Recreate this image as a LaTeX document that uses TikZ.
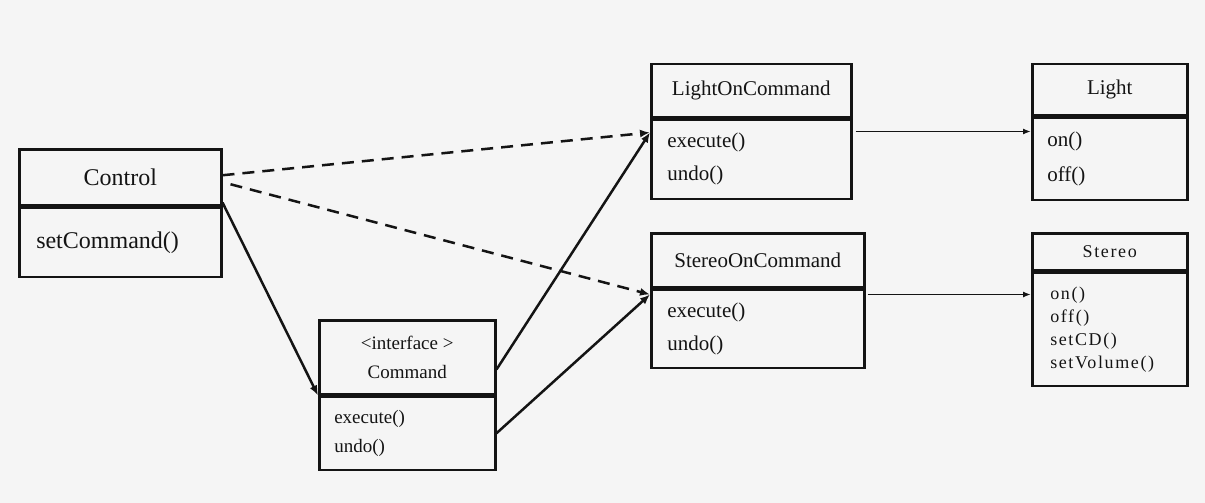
\documentclass[tikz,border=0pt]{standalone}
\usepackage{fontspec}
\setmainfont{Liberation Serif}
\usetikzlibrary{positioning, arrows.meta}
\definecolor{paper}{HTML}{F5F5F5}
\definecolor{ink}{HTML}{141414}
\tikzset{
    classname/.style={
           rectangle,
           draw=ink, line width=2.5pt,
           anchor=north west,
           inner sep=0pt,
           align=center,
           text=ink,
           },
    classops/.style={
           rectangle,
           draw=ink, line width=2.5pt,
           inner xsep=16pt, inner ysep=0pt,
           align=left,
           text=ink,
           },
    dep/.style={-{Latex[length=10pt, width=8pt]}, draw=ink, line width=2.5pt, dash pattern=on 12pt off 8pt},
    assoc/.style={-{Latex[length=10pt, width=8pt]}, draw=ink, line width=2.5pt},
    uses/.style={-{Latex[length=8pt, width=6pt]}, draw=ink, line width=1.6pt},
}

\begin{document}
\begin{tikzpicture}[x=1pt, y=-1pt]
    \fill[paper] (0,0) rectangle (1205,503);
    \useasboundingbox (0,0) rectangle (1205,503);

    % Class: Control
    \node[classname, minimum width=202pt, minimum height=56pt,
    font=\fontsize{24pt}{29pt}\selectfont] (control) at (18,148)
    {Control};
    \node[classops, below=0pt of control.south west, anchor=north west,
    minimum width=202pt, minimum height=69pt, text width=168pt,
    inner xsep=17pt, % a bit more room on the left
    font=\fontsize{24pt}{33pt}\selectfont] (controlops)
    {setCommand()};

    % Interface: Command
    \node[classname, minimum width=176pt, minimum height=74pt,
    font=\fontsize{19pt}{29pt}\selectfont] (command) at (318,319)
    {<interface >\\Command};
    \node[classops, below=0pt of command.south west, anchor=north west,
    minimum width=176pt, minimum height=73pt, text width=146pt,
    inner xsep=15pt,
    font=\fontsize{19pt}{29pt}\selectfont] (commandops)
    {execute()\\undo()};

    % Class: LightOnCommand
    \node[classname, minimum width=200pt, minimum height=53pt,
    font=\fontsize{21pt}{29pt}\selectfont] (lighton) at (650,63)
    {LightOnCommand};
    \node[classops, below=0pt of lighton.south west, anchor=north west,
    minimum width=200pt, minimum height=79pt, text width=168pt,
    font=\fontsize{21pt}{33pt}\selectfont] (lightonops)
    {execute()\\undo()};

    % Class: StereoOnCommand
    \node[classname, minimum width=213pt, minimum height=54pt,
    font=\fontsize{21pt}{29pt}\selectfont] (stereoon) at (650,232)
    {StereoOnCommand};
    \node[classops, below=0pt of stereoon.south west, anchor=north west,
    minimum width=213pt, minimum height=78pt, text width=181pt,
    font=\fontsize{21pt}{33pt}\selectfont] (stereoonops)
    {execute()\\undo()};

    % Class: Light
    \node[classname, minimum width=155pt, minimum height=51pt,
    font=\fontsize{21pt}{29pt}\selectfont] (light) at (1031,63)
    {Light};
    \node[classops, below=0pt of light.south west, anchor=north west,
    minimum width=155pt, minimum height=82pt, text width=125pt,
    inner xsep=15pt,
    font=\fontsize{21pt}{35pt}\selectfont] (lightops)
    {on()\\off()};

    % Class: Stereo (smaller, spaced out letters)
    \node[classname, minimum width=155pt, minimum height=37pt,
    font=\fontsize{18pt}{23pt}\selectfont\addfontfeature{LetterSpace=9}] (stereo) at (1031,232)
    {Stereo};
    \node[classops, below=0pt of stereo.south west, anchor=north west,
    minimum width=155pt, minimum height=113pt, text width=119pt,
    inner xsep=18pt,
    font=\fontsize{18pt}{23pt}\selectfont\addfontfeature{LetterSpace=9}] (stereoops)
    {on()\\off()\\setCD()\\setVolume()};

    % end points on the boxes
    \coordinate (lightin) at ([yshift=-14pt]lightonops.north west);
    \coordinate (stereoin) at ([yshift=-6pt]stereoonops.north west);
    \coordinate (lightout) at ([xshift=3pt, yshift=-13pt]lightonops.north east);
    \coordinate (stereoout) at ([xshift=2pt, yshift=-6pt]stereoonops.north east);

    % draw the connectors
    \draw[dep] ([yshift=2pt]control.east) -- (lightin);
    \draw[dep] ([xshift=8pt, yshift=-7pt]control.east) -- (stereoin);
    \draw[assoc] ([yshift=4pt]control.south east) -- (commandops.north west);
    \draw[assoc] ([yshift=26pt]command.south east) -- (lightin);
    \draw[assoc] (commandops.east) -- (stereoin);
    \draw[uses] (lightout) -- (lightout -| lightops.west);
    \draw[uses] (stereoout) -- (stereoout -| stereoops.west);
\end{tikzpicture}
\end{document}
